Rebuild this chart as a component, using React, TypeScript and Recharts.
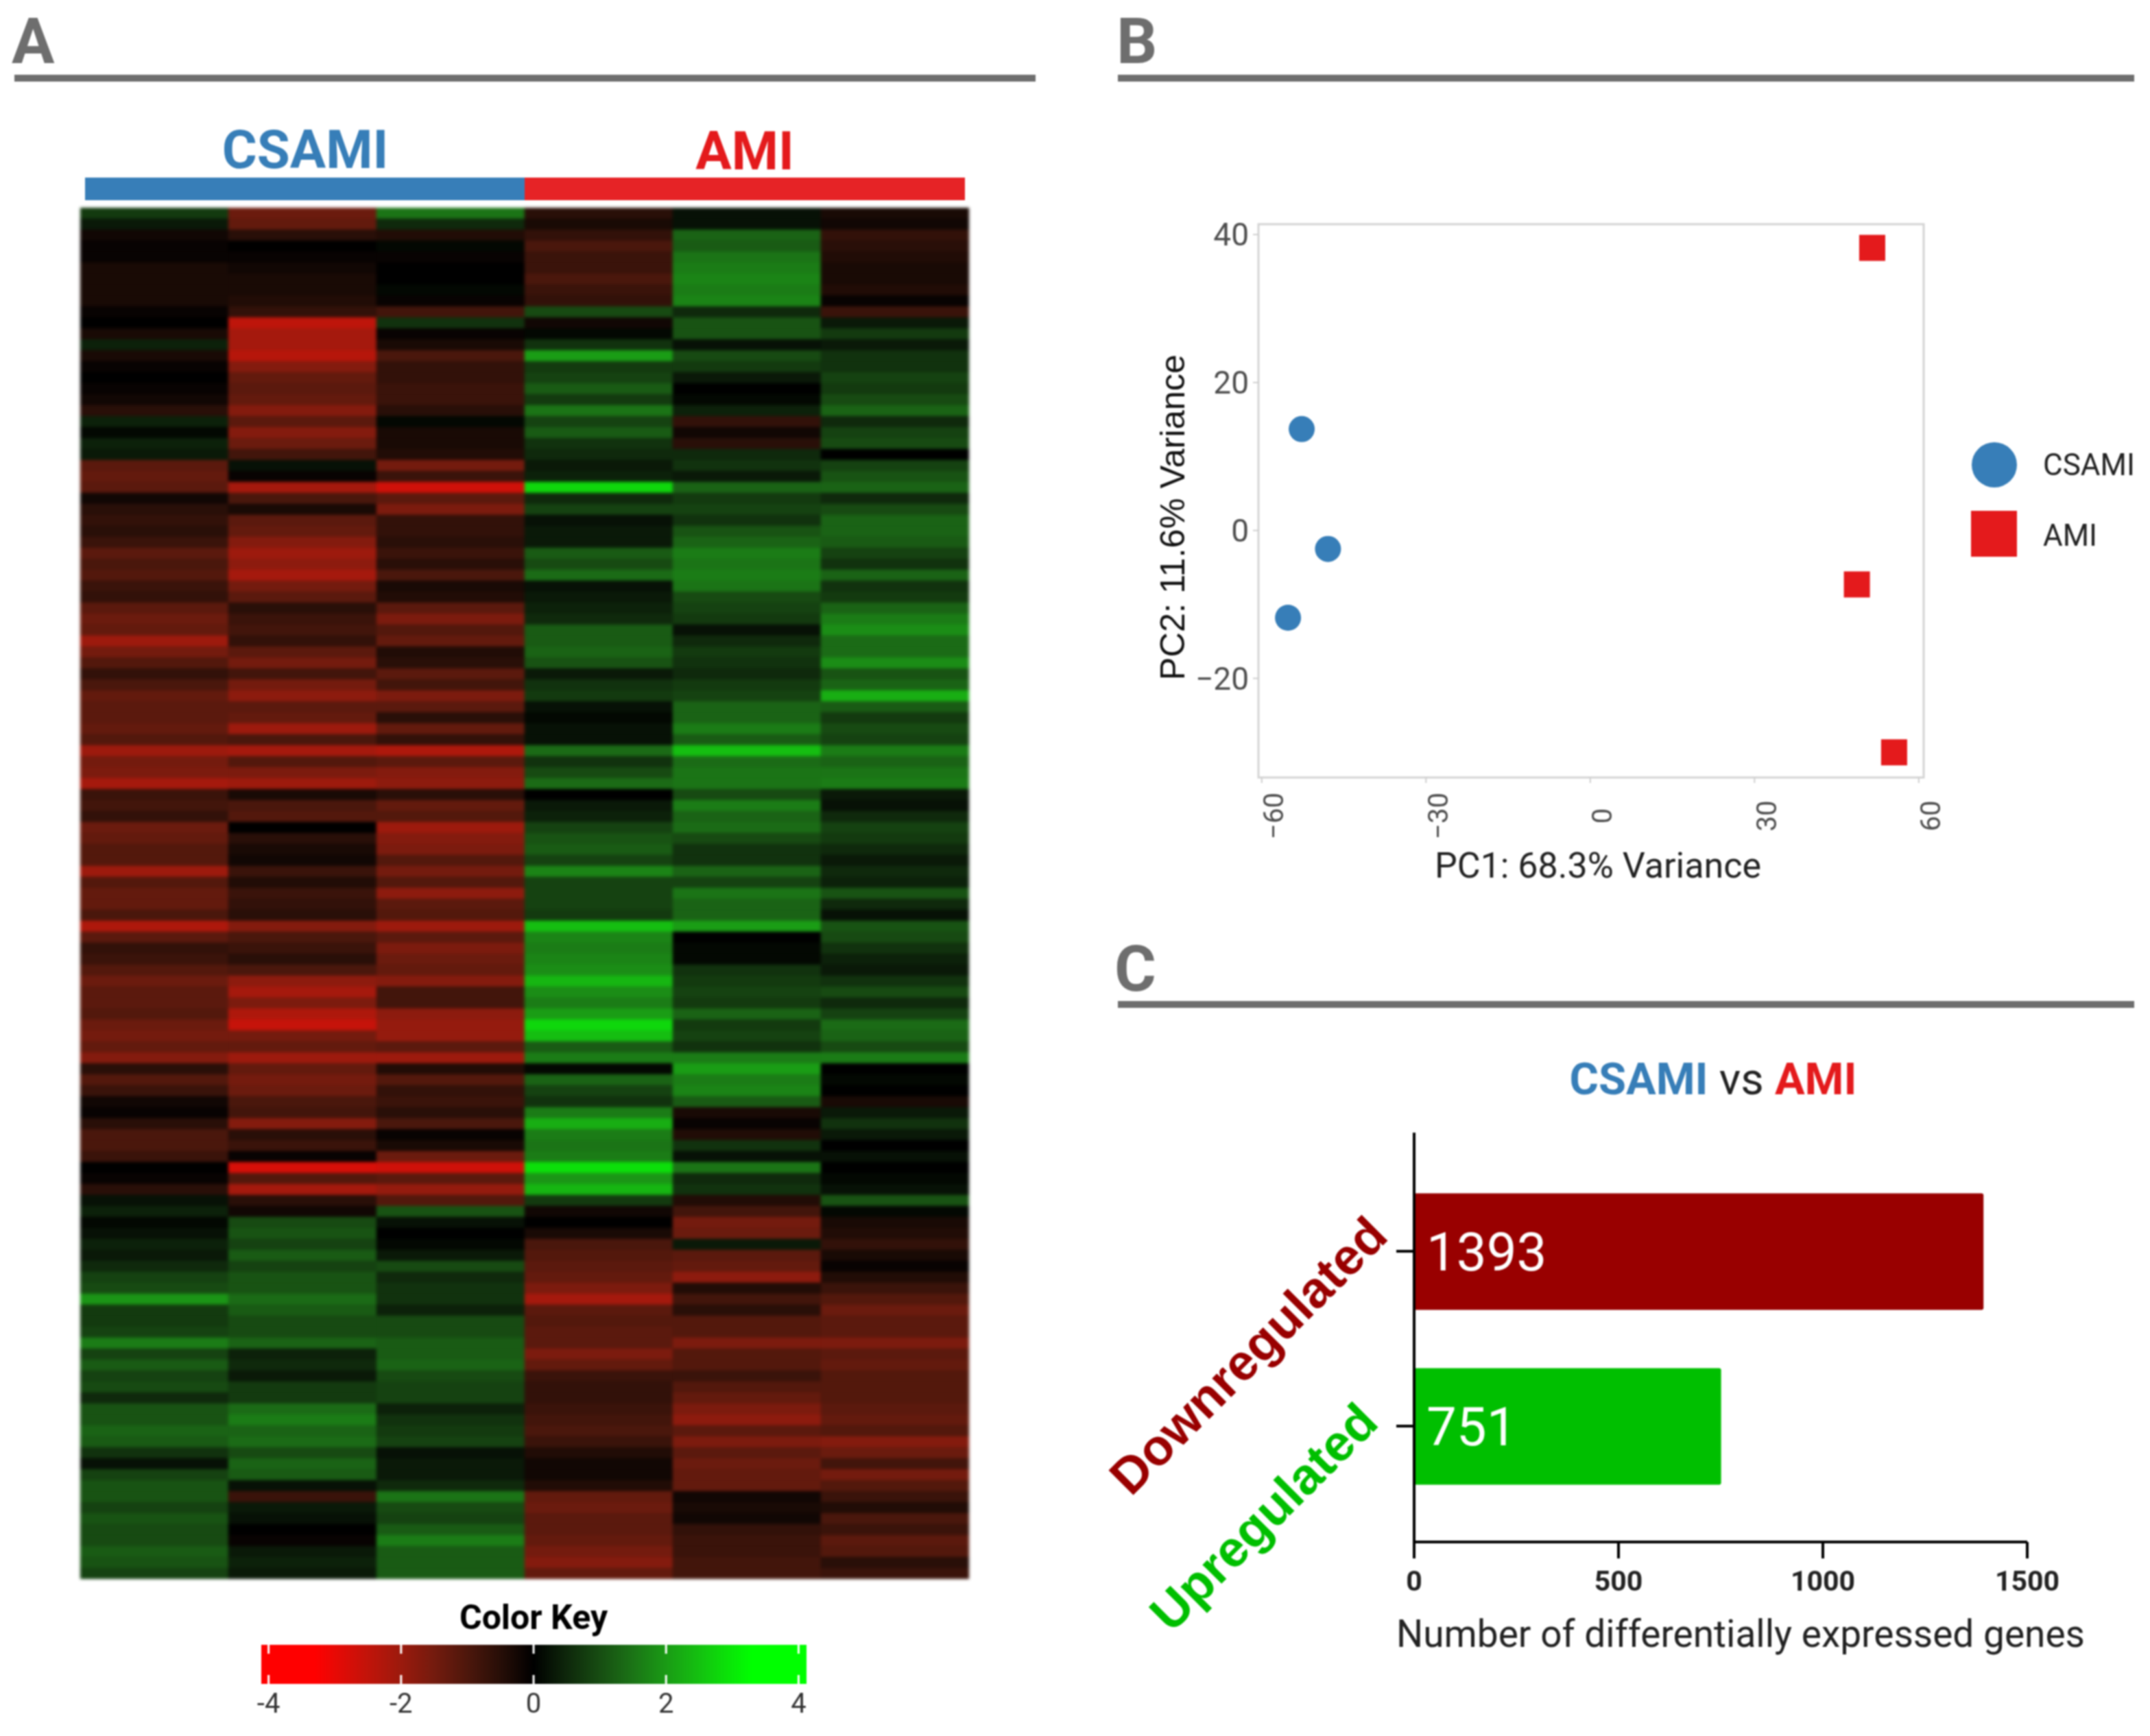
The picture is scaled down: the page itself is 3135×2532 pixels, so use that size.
import React from "react";
import {
  Bar,
  BarChart,
  Cell,
  Label,
  LabelList,
  ReferenceArea,
  ReferenceLine,
  Scatter,
  ScatterChart,
  XAxis,
  YAxis,
} from "recharts";

// Panel A: log2 expression, one row per band, columns in sample order
const sampleNames = ["CSAMI1", "CSAMI2", "CSAMI3", "AMI1", "AMI2", "AMI3"];
const heatValues: number[][] = [
  [0.7, -1.3, 1.4, -0.5, 0.2, -0.3],
  [0.3, -1.2, 0.5, -0.3, 0.2, -0.2],
  [-0.2, -0.5, -0.4, -0.6, 1.2, -0.6],
  [-0.1, 0, 0.1, -0.9, 1.1, -0.5],
  [-0.1, -0.1, -0.1, -0.7, 1.4, -0.4],
  [-0.3, -0.2, 0, -0.7, 1.5, -0.3],
  [-0.3, -0.3, 0, -0.9, 1.6, -0.3],
  [-0.3, -0.3, 0.1, -0.7, 1.5, -0.4],
  [-0.3, -0.4, -0.1, -0.6, 1.6, -0.1],
  [-0.1, -0.6, -0.8, 0.9, 0.5, -0.7],
  [0, -2.3, 0.6, -0.2, 1.0, 0.3],
  [-0.3, -2.0, -0.1, 0.1, 1.0, 0.7],
  [0.4, -2.0, -0.3, 0.6, 0.2, 0.3],
  [-0.3, -2.2, -0.9, 1.9, 0.9, 0.6],
  [-0.1, -1.6, -0.6, 0.7, 0.7, 0.6],
  [0, -1.2, -0.6, 0.8, 0.3, 0.8],
  [-0.1, -1.1, -0.7, 1.1, 0, 0.7],
  [-0.2, -1.2, -0.7, 0.7, 0.1, 0.9],
  [-0.5, -1.6, -0.5, 1.4, 0.4, 1.2],
  [0.4, -1.1, 0.1, 0.8, -0.6, 0.5],
  [0.1, -1.6, -0.3, 1.1, -0.2, 0.8],
  [0.4, -1.3, -0.3, 0.6, -0.5, 0.9],
  [0.3, -0.8, -0.4, 0.5, 0.5, 0],
  [-1.1, 0.2, -1.4, 0.3, 0.6, 0.8],
  [-1.2, -0.1, -0.7, 0.4, 0.3, 1.0],
  [-1.1, -2.0, -2.5, 2.6, 1.2, 1.2],
  [-0.2, -0.9, -1.1, 0.5, 0.7, 0.5],
  [-0.5, -0.3, -1.5, 0.8, 0.8, 0.9],
  [-0.6, -1.1, -0.6, 0.2, 0.6, 1.2],
  [-0.5, -1.2, -0.6, 0.3, 1.0, 1.2],
  [-0.7, -1.6, -0.5, 0.3, 1.2, 1.1],
  [-1.1, -1.9, -0.7, 1.1, 1.5, 0.8],
  [-0.9, -1.7, -0.5, 0.9, 1.4, 0.6],
  [-1.0, -2.0, -0.9, 1.3, 1.5, 1.2],
  [-0.7, -1.4, -0.3, 0.2, 1.4, 0.6],
  [-0.6, -1.1, -0.4, 0.3, 0.9, 0.7],
  [-1.1, -0.5, -1.1, 0.4, 0.8, 1.2],
  [-1.3, -0.7, -1.5, 0.5, 0.7, 1.5],
  [-1.2, -0.8, -1.0, 1.1, 0.2, 1.7],
  [-1.9, -0.6, -1.2, 1.1, 0.5, 1.3],
  [-1.4, -1.1, -0.4, 1.2, 0.7, 1.3],
  [-1.0, -1.4, -0.5, 1.0, 0.6, 1.7],
  [-0.6, -0.8, -1.1, 0.3, 0.5, 1.0],
  [-0.9, -1.4, -0.8, 0.6, 0.7, 1.2],
  [-1.2, -1.7, -1.5, 0.7, 0.8, 2.1],
  [-1.1, -1.1, -1.1, 0.2, 1.2, 1.1],
  [-1.1, -1.2, -0.5, 0.1, 1.2, 0.7],
  [-1.2, -1.9, -1.2, 0.2, 1.5, 0.9],
  [-1.0, -0.9, -0.6, 0.2, 1.1, 0.8],
  [-1.9, -2.0, -2.1, 1.3, 2.3, 1.5],
  [-1.4, -1.0, -1.1, 0.6, 1.3, 1.2],
  [-1.5, -1.5, -1.6, 0.9, 1.4, 1.4],
  [-2.0, -1.9, -1.7, 1.3, 1.4, 1.5],
  [-0.7, -0.3, -0.5, 0, 0.9, 0.3],
  [-0.8, -0.9, -1.2, 0.3, 1.5, 0.2],
  [-0.6, -1.0, -1.0, 0.4, 1.2, 0.5],
  [-1.3, 0, -1.9, 0.8, 1.3, 0.8],
  [-1.2, -0.5, -1.6, 1.0, 0.9, 0.7],
  [-1.0, -0.3, -1.5, 1.1, 0.6, 0.5],
  [-1.0, -0.2, -1.0, 0.8, 0.6, 0.3],
  [-1.9, -0.7, -1.4, 1.6, 1.2, 0.5],
  [-1.0, -0.4, -1.0, 0.8, 0.8, 0.4],
  [-1.2, -0.7, -1.7, 0.8, 1.4, 1.0],
  [-1.2, -0.6, -1.1, 0.8, 1.2, 0.5],
  [-0.9, -0.5, -1.0, 0.7, 1.2, 0.2],
  [-2.1, -1.6, -1.9, 2.3, 1.9, 1.0],
  [-1.1, -0.9, -1.1, 1.6, 0, 0.9],
  [-0.6, -0.7, -1.5, 1.5, 0.1, 0.6],
  [-0.7, -0.5, -1.3, 1.6, 0.1, 0.4],
  [-1.0, -0.9, -1.2, 1.7, 0.6, 0.3],
  [-1.3, -1.7, -1.6, 2.2, 0.7, 0.6],
  [-1.1, -2.0, -0.8, 1.7, 0.8, 0.9],
  [-1.1, -1.5, -0.8, 1.5, 0.7, 0.5],
  [-1.0, -2.1, -1.7, 1.9, 1.2, 0.8],
  [-1.3, -2.4, -1.8, 2.6, 0.7, 1.3],
  [-1.4, -1.4, -1.8, 2.3, 0.8, 1.2],
  [-1.2, -1.2, -1.1, 1.1, 0.6, 0.9],
  [-1.6, -1.9, -1.9, 1.5, 1.5, 1.5],
  [-0.5, -1.2, -0.4, 0.1, 1.9, 0],
  [-1.0, -1.4, -1.0, 1.2, 1.5, 0.1],
  [-0.7, -1.3, -0.6, 0.8, 1.6, 0],
  [-0.2, -0.9, -0.7, 0.6, 1.1, -0.3],
  [-0.1, -0.8, -0.5, 1.5, -0.3, 0.3],
  [-0.5, -1.6, -0.9, 2.1, -0.1, 0.6],
  [-0.9, -0.5, -0.1, 1.5, -0.4, 0.3],
  [-0.9, -0.7, -0.3, 1.4, 0.6, 0],
  [-0.7, -0.1, -1.3, 1.5, 0.2, 0.2],
  [0, -2.6, -2.5, 2.7, 1.4, 0],
  [-0.1, -1.0, -1.1, 1.8, 0.5, 0.1],
  [-0.5, -2.0, -1.8, 2.2, 0.6, 0.2],
  [0.2, -0.5, -1.0, 0.7, -0.4, 1.0],
  [0.4, -0.2, 1.0, -0.2, -0.8, 0.1],
  [0.1, 0.9, 0.2, 0, -1.4, -0.3],
  [0.2, 1.0, 0, -0.3, -1.3, -0.4],
  [0.4, 0.8, 0.1, -0.9, 0.3, -0.6],
  [0.3, 1.1, 0.3, -1.0, -1.1, -0.3],
  [0.5, 0.8, 0.9, -1.1, -1.2, -0.1],
  [0.8, 1.0, 0.5, -1.2, -1.7, -0.4],
  [0.9, 1.0, 0.6, -1.5, -0.4, -0.7],
  [1.8, 1.3, 0.6, -2.0, -0.8, -1.0],
  [0.7, 1.1, 0.4, -1.1, -0.5, -1.3],
  [0.7, 0.9, 0.9, -1.0, -1.0, -1.1],
  [0.8, 0.9, 0.9, -1.1, -1.0, -1.1],
  [1.5, 1.2, 1.1, -1.1, -1.5, -1.5],
  [0.8, 0.4, 1.1, -1.5, -1.0, -1.1],
  [1.1, 0.5, 1.2, -1.2, -1.0, -1.2],
  [0.8, 0.3, 0.9, -0.7, -0.7, -1.0],
  [0.9, 0.7, 0.8, -0.6, -1.0, -1.0],
  [0.5, 0.7, 0.8, -0.6, -1.2, -1.0],
  [1.0, 1.3, 0.4, -0.7, -1.5, -1.1],
  [1.0, 1.5, 0.6, -0.8, -1.7, -1.2],
  [1.2, 1.2, 0.7, -0.9, -1.1, -1.0],
  [1.1, 1.3, 0.8, -0.7, -1.5, -1.6],
  [0.6, 0.9, 0.2, -0.4, -1.1, -1.3],
  [0.2, 1.2, 0.3, -0.2, -1.3, -0.8],
  [0.8, 1.1, 0.3, -0.2, -1.2, -1.4],
  [1.0, 0.2, 0.5, -0.4, -1.2, -1.0],
  [1.0, -0.7, 1.4, -1.2, -0.2, -0.7],
  [0.8, 0.3, 0.9, -1.3, -0.3, -0.4],
  [1.0, 0.2, 0.8, -1.1, -0.2, -0.9],
  [0.9, 0, 1.1, -1.1, -0.6, -0.7],
  [0.9, -0.1, 1.5, -1.2, -0.7, -1.1],
  [1.1, 0.3, 1.1, -1.4, -0.7, -1.0],
  [1.0, 0.4, 1.1, -1.6, -0.8, -0.5],
  [0.8, 0.3, 1.1, -1.2, -0.8, -0.7],
];

const keyTicks = [-4, -2, 0, 2, 4];
const keyStops = [-4.11, -3.3, -3, -2.5, -2, -1.5, -1, -0.5, 0, 0.5, 1, 1.5, 2, 2.5, 3, 3.3, 4.12];

// Panel B: PCA scores
const csamiPoints = [
  { pc1: -52.7, pc2: 13.7 },
  { pc1: -47.9, pc2: -2.5 },
  { pc1: -55.2, pc2: -11.8 },
];
const amiPoints = [
  { pc1: 51.5, pc2: 38.2 },
  { pc1: 48.7, pc2: -7.3 },
  { pc1: 55.5, pc2: -30 },
];
const pc1Ticks = [-60, -30, 0, 30, 60];
const pc2Ticks = [-20, 0, 20, 40];

// Panel C: DEG counts
const degCategories = ["Downregulated", "Upregulated"];
const degCounts = [1393, 751];
const degTicks = [0, 500, 1000, 1500];
const degColors = ["#990000", "#00bf00"];
const degNudge = [
  [-7, -19],
  [-21, -2],
];

const BLUE = "#377eb8";
const RED = "#e41a1c";
const GREY = "#6e6e6e";

const heatColor = (v: number) => {
  const t = Math.min(1, Math.abs(v) / 3.3);
  const main = Math.round(255 * t);
  const other = Math.round(110 * t * (1 - t));
  return v < 0 ? `rgb(${main},${other},${Math.round(other * 0.5)})` : `rgb(${other},${main},${Math.round(other * 0.8)})`;
};
// the cells read a bit brighter than the key
const cellColor = (v: number) => heatColor(v * 1.07);

const heatData = heatValues.map((row, i) => {
  const item: Record<string, number> = { row: i };
  sampleNames.forEach((s) => (item[s] = 1));
  return item;
});
const degData = degCategories.map((name, i) => ({ name, count: degCounts[i] }));
const keyData = [{ name: "key", range: [keyStops[0], keyStops[keyStops.length - 1]] }];

const minus = (v: number) => String(v).replace("-", "\u2212");

const Heatmap = () => (
  <div style={{ position: "absolute", left: 117, top: 303, filter: "blur(2px)" }}>
    <BarChart
      width={1296}
      height={2000}
      data={heatData}
      layout="vertical"
      barCategoryGap={0}
      barGap={0}
      margin={{ top: 0, right: 0, bottom: 0, left: 0 }}
    >
      <XAxis type="number" domain={[0, 6]} hide />
      <YAxis type="category" dataKey="row" hide />
      {sampleNames.map((s, c) => (
        <Bar key={s} dataKey={s} stackId="heat" isAnimationActive={false}>
          {heatValues.map((row, i) => (
            <Cell key={i} fill={cellColor(row[c])} stroke={cellColor(row[c])} strokeWidth={0.5} />
          ))}
        </Bar>
      ))}
    </BarChart>
  </div>
);

const KeyTick = ({ x, y, payload }: any) => (
  <text x={x} y={y + 28} textAnchor="middle" fontSize={40} fill="#333">
    {payload.value}
  </text>
);

const ColorKey = () => (
  <div style={{ position: "absolute", left: 340, top: 2380 }}>
    <BarChart
      width={860}
      height={150}
      data={keyData}
      layout="vertical"
      barCategoryGap={0}
      margin={{ top: 19, right: 24, bottom: 0, left: 41 }}
    >
      <defs>
        <linearGradient id="keyGrad" x1="0" y1="0" x2="1" y2="0">
          {keyStops.map((v) => (
            <stop key={v} offset={(v - keyStops[0]) / (keyStops[keyStops.length - 1] - keyStops[0])} stopColor={heatColor(v)} />
          ))}
        </linearGradient>
      </defs>
      <XAxis
        type="number"
        domain={[keyStops[0], keyStops[keyStops.length - 1]]}
        ticks={keyTicks}
        interval={0}
        axisLine={false}
        tickLine={false}
        height={74}
        tickMargin={8}
        tick={<KeyTick />}
      />
      <YAxis type="category" dataKey="name" hide />
      <Bar dataKey="range" fill="url(#keyGrad)" isAnimationActive={false} />
      {keyTicks.map((t) => (
        <ReferenceLine key={t} x={t} stroke="#fff" strokeWidth={3} strokeDasharray="13 31 13" />
      ))}
    </BarChart>
  </div>
);

const Pc1Tick = ({ x, y, payload }: any) => (
  <text
    transform={`translate(${x + 18},${y + 46}) rotate(-90)`}
    textAnchor="middle"
    dominantBaseline="central"
    fontSize={40}
    fill="#4d4d4d"
  >
    {minus(payload.value)}
  </text>
);

const PcaPlot = () => (
  <div style={{ position: "absolute", left: 1640, top: 280 }}>
    <ScatterChart width={1250} height={1050} margin={{ top: 47, right: 85, bottom: 0, left: 0 }}>
      <XAxis
        type="number"
        dataKey="pc1"
        domain={[-60.6, 60.9]}
        ticks={pc1Ticks}
        interval={0}
        height={196}
        axisLine={false}
        tickSize={8}
        tickLine={{ stroke: "#cfcfcf", strokeWidth: 2 }}
        tick={<Pc1Tick />}
      >
        <Label value="PC1: 68.3% Variance" position="insideBottom" offset={50} dx={10} fontSize={52} fill="#222" />
      </XAxis>
      <YAxis
        type="number"
        dataKey="pc2"
        domain={[-33.4, 41.4]}
        ticks={pc2Ticks}
        interval={0}
        width={195}
        axisLine={false}
        tickSize={8}
        tickMargin={6}
        tickLine={{ stroke: "#cfcfcf", strokeWidth: 2 }}
        tick={{ fontSize: 46, fill: "#4d4d4d" }}
        tickFormatter={minus}
      >
        <Label
          value="PC2: 11.6% Variance"
          angle={-90}
          position="insideLeft"
          offset={0}
          dx={69}
          dy={24}
          textAnchor="middle"
          fontSize={50.5}
          fill="#111"
          style={{ fontFamily: "Liberation Sans" }}
        />
      </YAxis>
      <ReferenceArea x1={-60.6} x2={60.9} y1={-33.4} y2={41.4} fill="none" stroke="#d4d4d4" strokeWidth={3} />
      <Scatter
        data={csamiPoints}
        isAnimationActive={false}
        shape={(p: any) => <circle cx={p.cx} cy={p.cy} r={19} fill={BLUE} />}
      />
      <Scatter
        data={amiPoints}
        isAnimationActive={false}
        shape={(p: any) => <rect x={p.cx - 19} y={p.cy - 19} width={38} height={38} fill={RED} />}
      />
    </ScatterChart>
  </div>
);

const DegTick = ({ x, y, payload, index }: any) => (
  <text
    transform={`translate(${x + degNudge[index][0]},${y + degNudge[index][1]}) rotate(-45)`}
    textAnchor="end"
    fontSize={74}
    fontWeight={700}
    fill={degColors[index]}
    style={{ fontFamily: "Liberation Sans" }}
  >
    {payload.value}
  </text>
);

const DegBars = () => (
  <div style={{ position: "absolute", left: 1300, top: 1640 }}>
    <BarChart
      width={1800}
      height={800}
      data={degData}
      layout="vertical"
      margin={{ top: 12, right: 144, bottom: 0, left: 0 }}
    >
      <XAxis
        type="number"
        domain={[0, 1500]}
        ticks={degTicks}
        interval={0}
        height={191}
        tickSize={24}
        tickMargin={18}
        axisLine={{ stroke: "#000", strokeWidth: 4 }}
        tickLine={{ stroke: "#000", strokeWidth: 4 }}
        tick={{ fontSize: 41, fontWeight: 700, fill: "#222" }}
      >
        <Label
          value="Number of differentially expressed genes"
          position="insideBottom"
          offset={38}
          dx={29}
          fontSize={55}
          fill="#222"
        />
      </XAxis>
      <YAxis
        type="category"
        dataKey="name"
        width={762}
        padding={{ top: 45.5, bottom: 41.5 }}
        tickSize={26}
        axisLine={{ stroke: "#000", strokeWidth: 4 }}
        tickLine={{ stroke: "#000", strokeWidth: 4 }}
        tick={<DegTick />}
      />
      <Bar dataKey="count" barSize={170} radius={3} isAnimationActive={false}>
        {degData.map((d, i) => (
          <Cell key={d.name} fill={degColors[i]} />
        ))}
        <LabelList dataKey="count" position="insideLeft" offset={18} fill="#fff" fontSize={78} />
      </Bar>
    </BarChart>
  </div>
);

// letters, rules, group bars, titles and the PCA legend
const Annotations = () => (
  <svg width={3135} height={2532} style={{ position: "absolute", left: 0, top: 0 }}>
    <g fill={GREY} fontWeight={700} fontSize={93}>
      <text x={17} y={92}>A</text>
      <text x={1628} y={92}>B</text>
      <text x={1625} y={1445}>C</text>
    </g>
    <rect x={21} y={109} width={1489} height={10} fill={GREY} />
    <rect x={1630} y={109} width={1482} height={10} fill={GREY} />
    <rect x={1630} y={1460} width={1482} height={10} fill={GREY} />

    <text x={445} y={245} textAnchor="middle" fontSize={78} fontWeight={700} fill={BLUE}>CSAMI</text>
    <text x={1086} y={247} textAnchor="middle" fontSize={78} fontWeight={700} fill={RED}>AMI</text>
    <rect x={124} y={259} width={641} height={33} fill={BLUE} />
    <rect x={765} y={259} width={642} height={33} fill="#e62326" />

    <text x={778} y={2376} textAnchor="middle" fontSize={50} fontWeight={700} fill="#000">Color Key</text>

    <circle cx={2908} cy={678} r={33} fill={BLUE} />
    <rect x={2874} y={745} width={67} height={67} fill={RED} />
    <text x={2979} y={678} dominantBaseline="central" fontSize={44} fill="#222">CSAMI</text>
    <text x={2979} y={781} dominantBaseline="central" fontSize={44} fill="#222">AMI</text>

    <text x={2498} y={1596} textAnchor="middle" fontSize={65} fill="#222">
      <tspan fontWeight={700} fill={BLUE}>CSAMI</tspan>
      <tspan> vs </tspan>
      <tspan fontWeight={700} fill={RED}>AMI</tspan>
    </text>
  </svg>
);

export default function App() {
  return (
    <div
      style={{
        position: "absolute",
        left: 0,
        top: 0,
        width: 3135,
        height: 2532,
        background: "#fff",
        overflow: "hidden",
        fontFamily: "Roboto",
        filter: "blur(1px)",
      }}
    >
      <Annotations />
      <DegBars />
      <Heatmap />
      <ColorKey />
      <PcaPlot />
    </div>
  );
}
